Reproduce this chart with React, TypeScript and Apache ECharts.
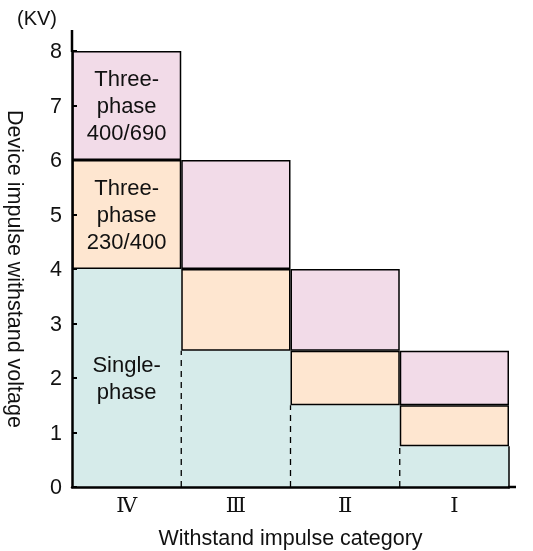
import React, { useEffect, useRef } from "react";
import * as echarts from "echarts";

const categories = ["Ⅳ", "Ⅲ", "Ⅱ", "Ⅰ"];
const singlePhase = [4, 2.5, 1.5, 0.75];
const threePhase230 = [2, 1.5, 1, 0.75];
const threePhase690 = [2, 2, 1.5, 1];
const yTicks = [0, 1, 2, 3, 4, 5, 6, 7, 8];
const seriesNames = ["Single-phase", "Three-phase 230/400", "Three-phase 400/690"];
const segmentLabels = ["Single-\nphase", "Three-\nphase\n230/400", "Three-\nphase\n400/690"];

const FONT = "'Liberation Sans', Arial, sans-serif";

export default function App() {
  const ref = useRef<HTMLDivElement>(null);
  useEffect(() => {
    if (!ref.current) return;
    const chart = echarts.init(ref.current, undefined, { renderer: "svg" });
    const labelStyle = {
      show: true,
      position: "inside",
      color: "#111",
      fontSize: 22,
      lineHeight: 27,
      fontFamily: FONT,
    };
    const withFirstLabel = (arr: number[], text: string) =>
      arr.map((v, i) =>
        i === 0 ? { value: v, label: { ...labelStyle, formatter: text } } : v
      );
    chart.setOption({
      animation: false,
      grid: { left: 72, right: 24, top: 51, bottom: 64, containLabel: false, outerBoundsMode: "none" },
      xAxis: {
        type: "category",
        data: categories,
        z: 6,
        name: "Withstand impulse category",
        nameLocation: "middle",
        nameGap: 40,
        nameTextStyle: { fontSize: 21.5, color: "#111", fontFamily: FONT },
        axisLine: { lineStyle: { color: "#000", width: 2.5 } },
        axisTick: { show: false },
        axisLabel: {
          fontSize: 21,
          color: "#111",
          margin: 7,
          fontFamily: "'DejaVu Serif', 'Liberation Serif', serif",
        },
      },
      yAxis: {
        type: "value",
        min: yTicks[0],
        max: yTicks[yTicks.length - 1],
        interval: 1,
        z: 6,
        name: "Device impulse withstand voltage",
        nameLocation: "middle",
        nameRotate: -90,
        nameGap: 46,
        nameTextStyle: { fontSize: 21.5, color: "#111", fontFamily: FONT },
        axisLine: { show: true, lineStyle: { color: "#000", width: 2.5 } },
        axisTick: { show: true, inside: true, length: 5, lineStyle: { color: "#000", width: 2 } },
        axisLabel: { fontSize: 21.5, color: "#111", margin: 10, fontFamily: FONT },
        splitLine: { show: false },
      },
      graphic: [
        { type: "line", z: 10, shape: { x1: 72, y1: 30, x2: 72, y2: 52 }, style: { stroke: "#000", lineWidth: 2.5 } },
        { type: "line", z: 10, shape: { x1: 508, y1: 487, x2: 516, y2: 487 }, style: { stroke: "#000", lineWidth: 2.5 } },
        {
          type: "text",
          left: 17,
          top: 8,
          style: { text: "(KV)", fontSize: 20, fill: "#111", fontFamily: FONT },
        },
      ],
      series: [
        {
          name: seriesNames[0],
          type: "bar",
          stack: "v",
          barCategoryGap: 0,
          barWidth: "100%",
          itemStyle: { color: "#d6ebea", borderWidth: 0 },
          data: withFirstLabel(singlePhase, segmentLabels[0]),
          z: 2,
        },
        {
          name: seriesNames[1],
          type: "bar",
          stack: "v",
          barCategoryGap: 0,
          barWidth: "100%",
          itemStyle: { color: "#fee6d0", borderColor: "#000", borderWidth: 1.5 },
          data: withFirstLabel(threePhase230, segmentLabels[1]),
          z: 3,
        },
        {
          name: seriesNames[2],
          type: "bar",
          stack: "v",
          barCategoryGap: 0,
          barWidth: "100%",
          itemStyle: { color: "#f2dbe8", borderColor: "#000", borderWidth: 1.5 },
          data: withFirstLabel(threePhase690, segmentLabels[2]),
          z: 3,
        },
        {
          type: "custom",
          z: 4,
          silent: true,
          data: singlePhase.map((v, i) => [i, v]),
          renderItem: (params: any, api: any) => {
            const i = api.value(0);
            const v = api.value(1);
            const size = api.size([1, 0]);
            const w = size[0];
            const top = api.coord([i, v]);
            const bottom = api.coord([i, 0]);
            const children: any[] = [];
            if (i > 0) {
              const x = top[0] - w / 2;
              children.push({
                type: "line",
                shape: { x1: x, y1: bottom[1], x2: x, y2: top[1] },
                style: { stroke: "#000", lineWidth: 1.3, lineDash: [6, 5] },
              });
            }
            if (i === categories.length - 1) {
              const x = top[0] + w / 2;
              children.push({
                type: "line",
                shape: { x1: x, y1: bottom[1], x2: x, y2: top[1] },
                style: { stroke: "#000", lineWidth: 1.5 },
              });
            }
            return { type: "group", children };
          },
        },
      ],
    });
    return () => chart.dispose();
  }, []);
  return (
    <div
      ref={ref}
      style={{ position: "fixed", left: 0, top: 0, width: 533, height: 551 }}
    />
  );
}
